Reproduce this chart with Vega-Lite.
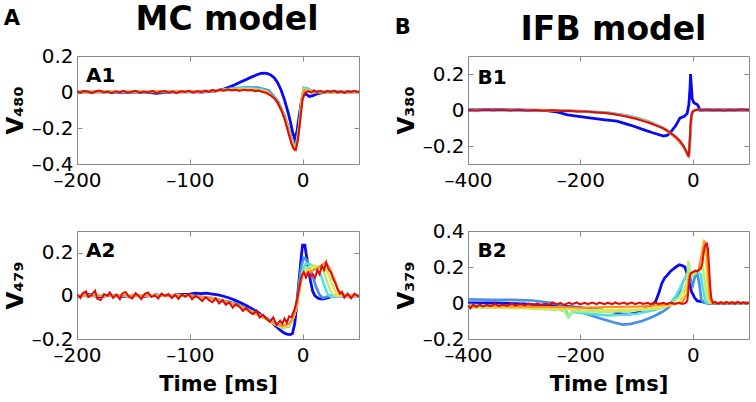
{
"$schema":"https://vega.github.io/schema/vega-lite/v6.json",
"background":"white",
"padding":{"left":3,"top":3,"right":0,"bottom":0},
"config":{
 "font":"DejaVu Sans",
 "view":{"stroke":"#8a8a8a","strokeWidth":1},
 "axis":{"domain":false,"grid":false,"labelFont":"DejaVu Sans","labelFontSize":20,"labelColor":"#000","labelFlush":false,"labelOverlap":false,"tickColor":"#8a8a8a","tickSize":-5,"labelPadding":9,"titleFont":"DejaVu Sans","titleFontWeight":"bold","titleColor":"#000","labelExpr":"replace(datum.label, '−', '–')"},
 "axisY":{"titleFontSize":23,"titlePadding":4},
 "axisX":{"titleFontSize":21,"titlePadding":8,"labelPadding":11},
 "title":{"font":"DejaVu Sans","fontWeight":"bold","color":"#000"},
 "concat":{"spacing":34}
},
"datasets":{
"a1":[
{"s":1,"t":-200,"v":0.0},{"s":1,"t":-180,"v":0.002},{"s":1,"t":-160,"v":-0.002},{"s":1,"t":-140,"v":0.001},{"s":1,"t":-130,"v":-0.008},{"s":1,"t":-120,"v":0.0},{"s":1,"t":-100,"v":0.002},{"s":1,"t":-90,"v":0.0},{"s":1,"t":-80,"v":0.004},{"s":1,"t":-75,"v":0.008},{"s":1,"t":-70,"v":0.016},{"s":1,"t":-65,"v":0.027},{"s":1,"t":-60,"v":0.04},{"s":1,"t":-55,"v":0.055},{"s":1,"t":-50,"v":0.07},{"s":1,"t":-45,"v":0.084},{"s":1,"t":-40,"v":0.097},{"s":1,"t":-37,"v":0.103},{"s":1,"t":-34,"v":0.105},{"s":1,"t":-31,"v":0.102},{"s":1,"t":-28,"v":0.094},{"s":1,"t":-25,"v":0.078},{"s":1,"t":-22,"v":0.05},{"s":1,"t":-19,"v":0.01},{"s":1,"t":-16,"v":-0.045},{"s":1,"t":-13,"v":-0.11},{"s":1,"t":-11,"v":-0.16},{"s":1,"t":-9,"v":-0.22},{"s":1,"t":-7,"v":-0.26},{"s":1,"t":-5,"v":-0.22},{"s":1,"t":-3,"v":-0.13},{"s":1,"t":-1,"v":-0.05},{"s":1,"t":1,"v":-0.015},{"s":1,"t":3,"v":-0.012},{"s":1,"t":6,"v":-0.025},{"s":1,"t":9,"v":-0.02},{"s":1,"t":12,"v":-0.012},{"s":1,"t":16,"v":-0.006},{"s":1,"t":20,"v":0.0},{"s":1,"t":30,"v":0.002},{"s":1,"t":40,"v":-0.001},{"s":1,"t":50,"v":0.0},
{"s":2,"t":-200,"v":0},{"s":2,"t":-100,"v":0.002},{"s":2,"t":-80,"v":0.006},{"s":2,"t":-65,"v":0.018},{"s":2,"t":-50,"v":0.026},{"s":2,"t":-40,"v":0.024},{"s":2,"t":-30,"v":0.008},{"s":2,"t":-22,"v":-0.05},{"s":2,"t":-16,"v":-0.13},{"s":2,"t":-12,"v":-0.21},{"s":2,"t":-9,"v":-0.28},{"s":2,"t":-7,"v":-0.3},{"s":2,"t":-5,"v":-0.27},{"s":2,"t":-3,"v":-0.18},{"s":2,"t":-1,"v":-0.05},{"s":2,"t":1,"v":0.02},{"s":2,"t":4,"v":0.02},{"s":2,"t":8,"v":0.006},{"s":2,"t":15,"v":0},{"s":2,"t":50,"v":0},
{"s":3,"t":-200,"v":0},{"s":3,"t":-100,"v":0},{"s":3,"t":-75,"v":0.008},{"s":3,"t":-60,"v":0.02},{"s":3,"t":-48,"v":0.022},{"s":3,"t":-35,"v":0.012},{"s":3,"t":-25,"v":-0.03},{"s":3,"t":-18,"v":-0.11},{"s":3,"t":-13,"v":-0.2},{"s":3,"t":-9,"v":-0.285},{"s":3,"t":-7,"v":-0.31},{"s":3,"t":-5,"v":-0.28},{"s":3,"t":-3,"v":-0.19},{"s":3,"t":-1,"v":-0.06},{"s":3,"t":1,"v":0.025},{"s":3,"t":4,"v":0.018},{"s":3,"t":9,"v":0.004},{"s":3,"t":15,"v":0},{"s":3,"t":50,"v":0},
{"s":4,"t":-200,"v":0},{"s":4,"t":-80,"v":0.005},{"s":4,"t":-60,"v":0.016},{"s":4,"t":-45,"v":0.016},{"s":4,"t":-32,"v":0.005},{"s":4,"t":-24,"v":-0.04},{"s":4,"t":-18,"v":-0.11},{"s":4,"t":-13,"v":-0.2},{"s":4,"t":-9,"v":-0.29},{"s":4,"t":-7,"v":-0.315},{"s":4,"t":-5,"v":-0.29},{"s":4,"t":-3,"v":-0.2},{"s":4,"t":-1,"v":-0.06},{"s":4,"t":1,"v":0.015},{"s":4,"t":5,"v":0.01},{"s":4,"t":10,"v":0},{"s":4,"t":50,"v":0},
{"s":5,"t":-200,"v":0},{"s":5,"t":-80,"v":0.005},{"s":5,"t":-60,"v":0.014},{"s":5,"t":-45,"v":0.014},{"s":5,"t":-32,"v":0.002},{"s":5,"t":-24,"v":-0.04},{"s":5,"t":-18,"v":-0.11},{"s":5,"t":-13,"v":-0.2},{"s":5,"t":-9,"v":-0.29},{"s":5,"t":-7,"v":-0.318},{"s":5,"t":-5,"v":-0.29},{"s":5,"t":-3,"v":-0.2},{"s":5,"t":-1,"v":-0.06},{"s":5,"t":1,"v":0.012},{"s":5,"t":5,"v":0.008},{"s":5,"t":10,"v":0},{"s":5,"t":50,"v":0},
{"s":6,"t":-200,"v":0},{"s":6,"t":-80,"v":0.005},{"s":6,"t":-60,"v":0.013},{"s":6,"t":-45,"v":0.012},{"s":6,"t":-32,"v":0.0},{"s":6,"t":-24,"v":-0.04},{"s":6,"t":-18,"v":-0.11},{"s":6,"t":-13,"v":-0.2},{"s":6,"t":-9,"v":-0.29},{"s":6,"t":-7,"v":-0.32},{"s":6,"t":-5,"v":-0.29},{"s":6,"t":-3,"v":-0.2},{"s":6,"t":-1,"v":-0.06},{"s":6,"t":1,"v":0.01},{"s":6,"t":5,"v":0.006},{"s":6,"t":10,"v":0},{"s":6,"t":50,"v":0},
{"s":7,"t":-200,"v":0.003},{"s":7,"t":-197,"v":-0.005},{"s":7,"t":-194,"v":0.006},{"s":7,"t":-190,"v":0.001},{"s":7,"t":-187,"v":-0.006},{"s":7,"t":-183,"v":0.004},{"s":7,"t":-180,"v":0.008},{"s":7,"t":-176,"v":-0.003},{"s":7,"t":-173,"v":0.002},{"s":7,"t":-169,"v":-0.007},{"s":7,"t":-166,"v":0.004},{"s":7,"t":-162,"v":-0.002},{"s":7,"t":-159,"v":0.006},{"s":7,"t":-155,"v":-0.004},{"s":7,"t":-151,"v":0.001},{"s":7,"t":-148,"v":0.007},{"s":7,"t":-144,"v":-0.005},{"s":7,"t":-141,"v":0.003},{"s":7,"t":-137,"v":-0.002},{"s":7,"t":-133,"v":0.006},{"s":7,"t":-130,"v":-0.006},{"s":7,"t":-126,"v":0.002},{"s":7,"t":-122,"v":0.005},{"s":7,"t":-119,"v":-0.004},{"s":7,"t":-115,"v":0.003},{"s":7,"t":-112,"v":-0.006},{"s":7,"t":-108,"v":0.004},{"s":7,"t":-104,"v":0.0},{"s":7,"t":-101,"v":0.006},{"s":7,"t":-97,"v":-0.004},{"s":7,"t":-93,"v":0.005},{"s":7,"t":-90,"v":0.0},{"s":7,"t":-86,"v":0.007},{"s":7,"t":-83,"v":0.001},{"s":7,"t":-80,"v":0.012},{"s":7,"t":-77,"v":0.004},{"s":7,"t":-73,"v":0.013},{"s":7,"t":-70,"v":0.007},{"s":7,"t":-66,"v":0.015},{"s":7,"t":-63,"v":0.008},{"s":7,"t":-59,"v":0.012},{"s":7,"t":-56,"v":0.006},{"s":7,"t":-52,"v":0.013},{"s":7,"t":-48,"v":0.008},{"s":7,"t":-45,"v":0.011},{"s":7,"t":-42,"v":0.004},{"s":7,"t":-39,"v":0.008},{"s":7,"t":-36,"v":0.001},{"s":7,"t":-32,"v":-0.006},{"s":7,"t":-28,"v":-0.02},{"s":7,"t":-25,"v":-0.035},{"s":7,"t":-22,"v":-0.06},{"s":7,"t":-19,"v":-0.1},{"s":7,"t":-16,"v":-0.15},{"s":7,"t":-13,"v":-0.22},{"s":7,"t":-10,"v":-0.285},{"s":7,"t":-8,"v":-0.315},{"s":7,"t":-6,"v":-0.322},{"s":7,"t":-4,"v":-0.26},{"s":7,"t":-2,"v":-0.15},{"s":7,"t":0,"v":-0.04},{"s":7,"t":2,"v":-0.005},{"s":7,"t":5,"v":0.004},{"s":7,"t":8,"v":-0.003},{"s":7,"t":10,"v":0.009},{"s":7,"t":13,"v":0.001},{"s":7,"t":16,"v":0.007},{"s":7,"t":19,"v":-0.004},{"s":7,"t":22,"v":0.006},{"s":7,"t":25,"v":0.0},{"s":7,"t":28,"v":0.008},{"s":7,"t":31,"v":-0.003},{"s":7,"t":34,"v":0.004},{"s":7,"t":37,"v":-0.005},{"s":7,"t":40,"v":0.005},{"s":7,"t":43,"v":0.0},{"s":7,"t":46,"v":0.007},{"s":7,"t":50,"v":-0.002}
],
"a2":[
{"s":1,"t":-200,"v":0.0},{"s":1,"t":-190,"v":0.006},{"s":1,"t":-180,"v":-0.005},{"s":1,"t":-170,"v":0.004},{"s":1,"t":-160,"v":-0.004},{"s":1,"t":-150,"v":0.003},{"s":1,"t":-140,"v":-0.003},{"s":1,"t":-130,"v":0.004},{"s":1,"t":-120,"v":0.0},{"s":1,"t":-110,"v":0.005},{"s":1,"t":-100,"v":0.008},{"s":1,"t":-95,"v":0.012},{"s":1,"t":-90,"v":0.01},{"s":1,"t":-85,"v":0.012},{"s":1,"t":-80,"v":0.008},{"s":1,"t":-75,"v":0.004},{"s":1,"t":-70,"v":-0.002},{"s":1,"t":-65,"v":-0.01},{"s":1,"t":-60,"v":-0.02},{"s":1,"t":-55,"v":-0.032},{"s":1,"t":-50,"v":-0.045},{"s":1,"t":-45,"v":-0.06},{"s":1,"t":-40,"v":-0.075},{"s":1,"t":-35,"v":-0.095},{"s":1,"t":-30,"v":-0.11},{"s":1,"t":-25,"v":-0.135},{"s":1,"t":-20,"v":-0.158},{"s":1,"t":-17,"v":-0.17},{"s":1,"t":-14,"v":-0.178},{"s":1,"t":-11,"v":-0.18},{"s":1,"t":-9,"v":-0.175},{"s":1,"t":-7,"v":-0.13},{"s":1,"t":-5,"v":-0.03},{"s":1,"t":-3,"v":0.08},{"s":1,"t":-1,"v":0.19},{"s":1,"t":0,"v":0.235},{"s":1,"t":2,"v":0.235},{"s":1,"t":3,"v":0.2},{"s":1,"t":5,"v":0.13},{"s":1,"t":7,"v":0.07},{"s":1,"t":9,"v":0.02},{"s":1,"t":11,"v":0.0},{"s":1,"t":14,"v":-0.012},{"s":1,"t":18,"v":-0.015},{"s":1,"t":22,"v":-0.01},{"s":1,"t":26,"v":-0.003},{"s":1,"t":30,"v":0.0},{"s":1,"t":40,"v":0.0},{"s":1,"t":50,"v":0.0},
{"s":2,"t":-200,"v":0},{"s":2,"t":-100,"v":0.002},{"s":2,"t":-80,"v":-0.01},{"s":2,"t":-60,"v":-0.035},{"s":2,"t":-45,"v":-0.07},{"s":2,"t":-35,"v":-0.095},{"s":2,"t":-25,"v":-0.125},{"s":2,"t":-18,"v":-0.145},{"s":2,"t":-12,"v":-0.14},{"s":2,"t":-8,"v":-0.1},{"s":2,"t":-5,"v":-0.03},{"s":2,"t":-3,"v":0.06},{"s":2,"t":-1,"v":0.14},{"s":2,"t":1,"v":0.175},{"s":2,"t":3,"v":0.17},{"s":2,"t":6,"v":0.14},{"s":2,"t":9,"v":0.09},{"s":2,"t":12,"v":0.04},{"s":2,"t":15,"v":0.005},{"s":2,"t":18,"v":-0.01},{"s":2,"t":24,"v":0},{"s":2,"t":50,"v":0},
{"s":3,"t":-200,"v":0},{"s":3,"t":-100,"v":0},{"s":3,"t":-80,"v":-0.012},{"s":3,"t":-60,"v":-0.04},{"s":3,"t":-45,"v":-0.075},{"s":3,"t":-35,"v":-0.1},{"s":3,"t":-25,"v":-0.13},{"s":3,"t":-18,"v":-0.15},{"s":3,"t":-12,"v":-0.14},{"s":3,"t":-8,"v":-0.1},{"s":3,"t":-5,"v":-0.04},{"s":3,"t":-2,"v":0.06},{"s":3,"t":0,"v":0.12},{"s":3,"t":3,"v":0.15},{"s":3,"t":7,"v":0.145},{"s":3,"t":12,"v":0.13},{"s":3,"t":16,"v":0.1},{"s":3,"t":19,"v":0.05},{"s":3,"t":22,"v":0.01},{"s":3,"t":25,"v":-0.005},{"s":3,"t":30,"v":0},{"s":3,"t":50,"v":0},
{"s":4,"t":-200,"v":0},{"s":4,"t":-100,"v":0},{"s":4,"t":-80,"v":-0.012},{"s":4,"t":-60,"v":-0.04},{"s":4,"t":-45,"v":-0.075},{"s":4,"t":-35,"v":-0.1},{"s":4,"t":-25,"v":-0.13},{"s":4,"t":-18,"v":-0.148},{"s":4,"t":-12,"v":-0.138},{"s":4,"t":-8,"v":-0.1},{"s":4,"t":-5,"v":-0.04},{"s":4,"t":-2,"v":0.05},{"s":4,"t":0,"v":0.11},{"s":4,"t":4,"v":0.13},{"s":4,"t":9,"v":0.14},{"s":4,"t":15,"v":0.135},{"s":4,"t":19,"v":0.11},{"s":4,"t":22,"v":0.06},{"s":4,"t":25,"v":0.02},{"s":4,"t":28,"v":0.0},{"s":4,"t":50,"v":0},
{"s":5,"t":-200,"v":0},{"s":5,"t":-100,"v":0},{"s":5,"t":-80,"v":-0.012},{"s":5,"t":-60,"v":-0.04},{"s":5,"t":-45,"v":-0.075},{"s":5,"t":-35,"v":-0.1},{"s":5,"t":-25,"v":-0.13},{"s":5,"t":-18,"v":-0.145},{"s":5,"t":-12,"v":-0.135},{"s":5,"t":-8,"v":-0.1},{"s":5,"t":-5,"v":-0.04},{"s":5,"t":-2,"v":0.05},{"s":5,"t":0,"v":0.1},{"s":5,"t":5,"v":0.12},{"s":5,"t":12,"v":0.13},{"s":5,"t":18,"v":0.14},{"s":5,"t":22,"v":0.11},{"s":5,"t":25,"v":0.07},{"s":5,"t":28,"v":0.03},{"s":5,"t":31,"v":0.005},{"s":5,"t":35,"v":0},{"s":5,"t":50,"v":0},
{"s":6,"t":-200,"v":0},{"s":6,"t":-100,"v":0},{"s":6,"t":-80,"v":-0.012},{"s":6,"t":-60,"v":-0.04},{"s":6,"t":-45,"v":-0.075},{"s":6,"t":-35,"v":-0.1},{"s":6,"t":-25,"v":-0.128},{"s":6,"t":-18,"v":-0.14},{"s":6,"t":-12,"v":-0.13},{"s":6,"t":-8,"v":-0.1},{"s":6,"t":-5,"v":-0.04},{"s":6,"t":-2,"v":0.05},{"s":6,"t":0,"v":0.1},{"s":6,"t":6,"v":0.11},{"s":6,"t":14,"v":0.13},{"s":6,"t":20,"v":0.155},{"s":6,"t":24,"v":0.13},{"s":6,"t":28,"v":0.08},{"s":6,"t":31,"v":0.035},{"s":6,"t":34,"v":0.01},{"s":6,"t":38,"v":0},{"s":6,"t":50,"v":0},
{"s":7,"t":-200,"v":0.005},{"s":7,"t":-197,"v":-0.01},{"s":7,"t":-195,"v":0.012},{"s":7,"t":-192,"v":0.02},{"s":7,"t":-190,"v":-0.006},{"s":7,"t":-187,"v":0.004},{"s":7,"t":-184,"v":0.024},{"s":7,"t":-182,"v":-0.014},{"s":7,"t":-179,"v":-0.02},{"s":7,"t":-176,"v":0.008},{"s":7,"t":-173,"v":0.0},{"s":7,"t":-171,"v":0.016},{"s":7,"t":-168,"v":-0.01},{"s":7,"t":-165,"v":0.006},{"s":7,"t":-162,"v":-0.016},{"s":7,"t":-160,"v":0.01},{"s":7,"t":-157,"v":0.018},{"s":7,"t":-154,"v":-0.004},{"s":7,"t":-151,"v":-0.012},{"s":7,"t":-148,"v":0.012},{"s":7,"t":-146,"v":0.003},{"s":7,"t":-143,"v":-0.015},{"s":7,"t":-140,"v":0.009},{"s":7,"t":-137,"v":0.015},{"s":7,"t":-134,"v":-0.006},{"s":7,"t":-131,"v":0.002},{"s":7,"t":-128,"v":-0.012},{"s":7,"t":-125,"v":0.01},{"s":7,"t":-122,"v":0.0},{"s":7,"t":-119,"v":0.008},{"s":7,"t":-116,"v":-0.01},{"s":7,"t":-113,"v":0.004},{"s":7,"t":-110,"v":-0.014},{"s":7,"t":-107,"v":0.006},{"s":7,"t":-104,"v":-0.004},{"s":7,"t":-101,"v":0.008},{"s":7,"t":-98,"v":-0.016},{"s":7,"t":-95,"v":0.0},{"s":7,"t":-92,"v":-0.01},{"s":7,"t":-89,"v":-0.024},{"s":7,"t":-86,"v":-0.006},{"s":7,"t":-83,"v":-0.02},{"s":7,"t":-80,"v":-0.03},{"s":7,"t":-77,"v":-0.012},{"s":7,"t":-74,"v":-0.035},{"s":7,"t":-71,"v":-0.02},{"s":7,"t":-68,"v":-0.042},{"s":7,"t":-65,"v":-0.03},{"s":7,"t":-62,"v":-0.055},{"s":7,"t":-59,"v":-0.038},{"s":7,"t":-56,"v":-0.05},{"s":7,"t":-53,"v":-0.07},{"s":7,"t":-50,"v":-0.055},{"s":7,"t":-47,"v":-0.075},{"s":7,"t":-44,"v":-0.085},{"s":7,"t":-41,"v":-0.068},{"s":7,"t":-38,"v":-0.1},{"s":7,"t":-35,"v":-0.088},{"s":7,"t":-32,"v":-0.107},{"s":7,"t":-29,"v":-0.12},{"s":7,"t":-26,"v":-0.1},{"s":7,"t":-23,"v":-0.135},{"s":7,"t":-20,"v":-0.115},{"s":7,"t":-18,"v":-0.13},{"s":7,"t":-16,"v":-0.105},{"s":7,"t":-14,"v":-0.125},{"s":7,"t":-12,"v":-0.095},{"s":7,"t":-10,"v":-0.1},{"s":7,"t":-7,"v":-0.06},{"s":7,"t":-5,"v":-0.02},{"s":7,"t":-3,"v":0.04},{"s":7,"t":-1,"v":0.09},{"s":7,"t":1,"v":0.11},{"s":7,"t":3,"v":0.085},{"s":7,"t":5,"v":0.108},{"s":7,"t":7,"v":0.088},{"s":7,"t":9,"v":0.1},{"s":7,"t":11,"v":0.083},{"s":7,"t":13,"v":0.118},{"s":7,"t":15,"v":0.1},{"s":7,"t":17,"v":0.138},{"s":7,"t":19,"v":0.12},{"s":7,"t":21,"v":0.155},{"s":7,"t":23,"v":0.122},{"s":7,"t":25,"v":0.11},{"s":7,"t":27,"v":0.08},{"s":7,"t":29,"v":0.06},{"s":7,"t":31,"v":0.03},{"s":7,"t":33,"v":0.01},{"s":7,"t":35,"v":0.018},{"s":7,"t":37,"v":-0.008},{"s":7,"t":40,"v":0.01},{"s":7,"t":43,"v":-0.012},{"s":7,"t":46,"v":0.01},{"s":7,"t":50,"v":-0.004}
],
"b1":[
{"s":1,"t":-400,"v":0.0},{"s":1,"t":-350,"v":0.002},{"s":1,"t":-300,"v":-0.001},{"s":1,"t":-260,"v":-0.003},{"s":1,"t":-240,"v":-0.012},{"s":1,"t":-223,"v":-0.027},{"s":1,"t":-200,"v":-0.037},{"s":1,"t":-180,"v":-0.045},{"s":1,"t":-160,"v":-0.053},{"s":1,"t":-135,"v":-0.062},{"s":1,"t":-110,"v":-0.085},{"s":1,"t":-88,"v":-0.109},{"s":1,"t":-70,"v":-0.128},{"s":1,"t":-52,"v":-0.145},{"s":1,"t":-45,"v":-0.14},{"s":1,"t":-40,"v":-0.125},{"s":1,"t":-30,"v":-0.085},{"s":1,"t":-23,"v":-0.045},{"s":1,"t":-15,"v":-0.035},{"s":1,"t":-10,"v":-0.02},{"s":1,"t":-7,"v":0.03},{"s":1,"t":-5,"v":0.12},{"s":1,"t":-4,"v":0.2},{"s":1,"t":-3,"v":0.15},{"s":1,"t":-1,"v":0.06},{"s":1,"t":2,"v":0.04},{"s":1,"t":5,"v":0.035},{"s":1,"t":8,"v":0.03},{"s":1,"t":10,"v":0.02},{"s":1,"t":13,"v":0.0},{"s":1,"t":20,"v":0.0},{"s":1,"t":100,"v":0.0},
{"s":2,"t":-400,"v":0},{"s":2,"t":-300,"v":0},{"s":2,"t":-250,"v":-0.002},{"s":2,"t":-200,"v":-0.006},{"s":2,"t":-150,"v":-0.016},{"s":2,"t":-120,"v":-0.03},{"s":2,"t":-100,"v":-0.043},{"s":2,"t":-80,"v":-0.062},{"s":2,"t":-60,"v":-0.088},{"s":2,"t":-45,"v":-0.115},{"s":2,"t":-35,"v":-0.14},{"s":2,"t":-25,"v":-0.17},{"s":2,"t":-17,"v":-0.2},{"s":2,"t":-12,"v":-0.23},{"s":2,"t":-9,"v":-0.25},{"s":2,"t":-7,"v":-0.255},{"s":2,"t":-5,"v":-0.18},{"s":2,"t":-3,"v":-0.06},{"s":2,"t":-1,"v":-0.01},{"s":2,"t":3,"v":0},{"s":2,"t":100,"v":0},
{"s":3,"t":-400,"v":0},{"s":3,"t":-300,"v":0},{"s":3,"t":-250,"v":-0.002},{"s":3,"t":-200,"v":-0.007},{"s":3,"t":-150,"v":-0.017},{"s":3,"t":-120,"v":-0.031},{"s":3,"t":-100,"v":-0.045},{"s":3,"t":-80,"v":-0.064},{"s":3,"t":-60,"v":-0.09},{"s":3,"t":-45,"v":-0.117},{"s":3,"t":-35,"v":-0.141},{"s":3,"t":-25,"v":-0.171},{"s":3,"t":-17,"v":-0.202},{"s":3,"t":-12,"v":-0.232},{"s":3,"t":-9,"v":-0.252},{"s":3,"t":-7,"v":-0.256},{"s":3,"t":-5,"v":-0.17},{"s":3,"t":-3,"v":-0.05},{"s":3,"t":-1,"v":-0.01},{"s":3,"t":3,"v":0},{"s":3,"t":100,"v":0},
{"s":6,"t":-400,"v":0},{"s":6,"t":-300,"v":0},{"s":6,"t":-250,"v":-0.002},{"s":6,"t":-200,"v":-0.007},{"s":6,"t":-150,"v":-0.018},{"s":6,"t":-120,"v":-0.032},{"s":6,"t":-100,"v":-0.047},{"s":6,"t":-80,"v":-0.066},{"s":6,"t":-60,"v":-0.092},{"s":6,"t":-45,"v":-0.118},{"s":6,"t":-35,"v":-0.142},{"s":6,"t":-25,"v":-0.172},{"s":6,"t":-17,"v":-0.203},{"s":6,"t":-12,"v":-0.233},{"s":6,"t":-9,"v":-0.253},{"s":6,"t":-7,"v":-0.258},{"s":6,"t":-5,"v":-0.16},{"s":6,"t":-3,"v":-0.05},{"s":6,"t":-1,"v":-0.01},{"s":6,"t":3,"v":0},{"s":6,"t":100,"v":0},
{"s":7,"t":-400,"v":0.0},{"s":7,"t":-385,"v":-0.003},{"s":7,"t":-370,"v":0.002},{"s":7,"t":-355,"v":-0.002},{"s":7,"t":-340,"v":0.002},{"s":7,"t":-325,"v":-0.003},{"s":7,"t":-310,"v":0.001},{"s":7,"t":-295,"v":-0.003},{"s":7,"t":-280,"v":0.0},{"s":7,"t":-265,"v":-0.004},{"s":7,"t":-250,"v":-0.002},{"s":7,"t":-235,"v":-0.005},{"s":7,"t":-220,"v":-0.004},{"s":7,"t":-205,"v":-0.008},{"s":7,"t":-190,"v":-0.009},{"s":7,"t":-175,"v":-0.012},{"s":7,"t":-160,"v":-0.015},{"s":7,"t":-145,"v":-0.021},{"s":7,"t":-130,"v":-0.029},{"s":7,"t":-115,"v":-0.039},{"s":7,"t":-100,"v":-0.05},{"s":7,"t":-88,"v":-0.062},{"s":7,"t":-76,"v":-0.074},{"s":7,"t":-64,"v":-0.088},{"s":7,"t":-52,"v":-0.102},{"s":7,"t":-44,"v":-0.118},{"s":7,"t":-36,"v":-0.135},{"s":7,"t":-28,"v":-0.155},{"s":7,"t":-22,"v":-0.175},{"s":7,"t":-17,"v":-0.198},{"s":7,"t":-13,"v":-0.22},{"s":7,"t":-10,"v":-0.24},{"s":7,"t":-8,"v":-0.254},{"s":7,"t":-7,"v":-0.25},{"s":7,"t":-6,"v":-0.2},{"s":7,"t":-5,"v":-0.14},{"s":7,"t":-4,"v":-0.08},{"s":7,"t":-3,"v":-0.04},{"s":7,"t":-1,"v":-0.015},{"s":7,"t":1,"v":-0.006},{"s":7,"t":4,"v":-0.002},{"s":7,"t":8,"v":0.002},{"s":7,"t":15,"v":-0.002},{"s":7,"t":25,"v":0.003},{"s":7,"t":35,"v":-0.002},{"s":7,"t":45,"v":0.002},{"s":7,"t":55,"v":-0.003},{"s":7,"t":65,"v":0.002},{"s":7,"t":75,"v":-0.002},{"s":7,"t":85,"v":0.003},{"s":7,"t":100,"v":0.0}
],
"b2":[
{"s":1,"t":-400,"v":0.0},{"s":1,"t":-350,"v":0.0},{"s":1,"t":-300,"v":-0.005},{"s":1,"t":-280,"v":-0.01},{"s":1,"t":-250,"v":-0.015},{"s":1,"t":-220,"v":-0.02},{"s":1,"t":-200,"v":-0.026},{"s":1,"t":-180,"v":-0.035},{"s":1,"t":-160,"v":-0.04},{"s":1,"t":-140,"v":-0.05},{"s":1,"t":-127,"v":-0.062},{"s":1,"t":-110,"v":-0.06},{"s":1,"t":-100,"v":-0.055},{"s":1,"t":-85,"v":-0.03},{"s":1,"t":-72,"v":-0.01},{"s":1,"t":-66,"v":0.01},{"s":1,"t":-60,"v":0.06},{"s":1,"t":-55,"v":0.11},{"s":1,"t":-50,"v":0.14},{"s":1,"t":-46,"v":0.152},{"s":1,"t":-40,"v":0.175},{"s":1,"t":-30,"v":0.2},{"s":1,"t":-24,"v":0.212},{"s":1,"t":-18,"v":0.207},{"s":1,"t":-14,"v":0.2},{"s":1,"t":-10,"v":0.16},{"s":1,"t":-7,"v":0.12},{"s":1,"t":-5,"v":0.1},{"s":1,"t":-2,"v":0.06},{"s":1,"t":0,"v":0.05},{"s":1,"t":3,"v":0.03},{"s":1,"t":8,"v":0.012},{"s":1,"t":15,"v":0.008},{"s":1,"t":22,"v":0.004},{"s":1,"t":30,"v":-0.003},{"s":1,"t":100,"v":0.0},
{"s":2,"t":-400,"v":0.02},{"s":2,"t":-360,"v":0.018},{"s":2,"t":-320,"v":0.017},{"s":2,"t":-285,"v":0.014},{"s":2,"t":-250,"v":0.0},{"s":2,"t":-220,"v":-0.03},{"s":2,"t":-200,"v":-0.05},{"s":2,"t":-170,"v":-0.08},{"s":2,"t":-140,"v":-0.108},{"s":2,"t":-125,"v":-0.12},{"s":2,"t":-110,"v":-0.116},{"s":2,"t":-90,"v":-0.1},{"s":2,"t":-70,"v":-0.075},{"s":2,"t":-55,"v":-0.05},{"s":2,"t":-45,"v":-0.03},{"s":2,"t":-35,"v":0.0},{"s":2,"t":-25,"v":0.05},{"s":2,"t":-17,"v":0.12},{"s":2,"t":-10,"v":0.155},{"s":2,"t":-6,"v":0.16},{"s":2,"t":-3,"v":0.12},{"s":2,"t":0,"v":0.1},{"s":2,"t":4,"v":0.15},{"s":2,"t":8,"v":0.16},{"s":2,"t":12,"v":0.1},{"s":2,"t":15,"v":0.02},{"s":2,"t":20,"v":0.0},{"s":2,"t":100,"v":0.0},
{"s":3,"t":-400,"v":-0.01},{"s":3,"t":-300,"v":-0.02},{"s":3,"t":-250,"v":-0.03},{"s":3,"t":-225,"v":-0.045},{"s":3,"t":-220,"v":-0.075},{"s":3,"t":-215,"v":-0.05},{"s":3,"t":-200,"v":-0.055},{"s":3,"t":-150,"v":-0.07},{"s":3,"t":-100,"v":-0.06},{"s":3,"t":-70,"v":-0.04},{"s":3,"t":-50,"v":-0.02},{"s":3,"t":-40,"v":0.0},{"s":3,"t":-30,"v":0.04},{"s":3,"t":-20,"v":0.1},{"s":3,"t":-12,"v":0.15},{"s":3,"t":-8,"v":0.17},{"s":3,"t":0,"v":0.15},{"s":3,"t":8,"v":0.17},{"s":3,"t":14,"v":0.16},{"s":3,"t":18,"v":0.08},{"s":3,"t":22,"v":0.01},{"s":3,"t":26,"v":0.0},{"s":3,"t":100,"v":0.0},
{"s":4,"t":-400,"v":-0.025},{"s":4,"t":-300,"v":-0.03},{"s":4,"t":-230,"v":-0.04},{"s":4,"t":-222,"v":-0.08},{"s":4,"t":-215,"v":-0.045},{"s":4,"t":-150,"v":-0.05},{"s":4,"t":-100,"v":-0.04},{"s":4,"t":-60,"v":-0.03},{"s":4,"t":-40,"v":-0.01},{"s":4,"t":-25,"v":0.03},{"s":4,"t":-15,"v":0.08},{"s":4,"t":-10,"v":0.12},{"s":4,"t":-8,"v":0.235},{"s":4,"t":-6,"v":0.2},{"s":4,"t":-3,"v":0.15},{"s":4,"t":5,"v":0.17},{"s":4,"t":12,"v":0.18},{"s":4,"t":18,"v":0.2},{"s":4,"t":22,"v":0.1},{"s":4,"t":26,"v":0.02},{"s":4,"t":30,"v":0.0},{"s":4,"t":100,"v":0.0},
{"s":5,"t":-400,"v":-0.02},{"s":5,"t":-300,"v":-0.025},{"s":5,"t":-200,"v":-0.035},{"s":5,"t":-150,"v":-0.04},{"s":5,"t":-100,"v":-0.035},{"s":5,"t":-50,"v":-0.02},{"s":5,"t":-25,"v":0.0},{"s":5,"t":-15,"v":0.05},{"s":5,"t":-10,"v":0.12},{"s":5,"t":-8,"v":0.16},{"s":5,"t":0,"v":0.17},{"s":5,"t":10,"v":0.18},{"s":5,"t":16,"v":0.27},{"s":5,"t":19,"v":0.34},{"s":5,"t":22,"v":0.32},{"s":5,"t":25,"v":0.15},{"s":5,"t":28,"v":0.02},{"s":5,"t":32,"v":0.0},{"s":5,"t":100,"v":0.0},
{"s":6,"t":-400,"v":-0.015},{"s":6,"t":-300,"v":-0.02},{"s":6,"t":-200,"v":-0.025},{"s":6,"t":-100,"v":-0.02},{"s":6,"t":-50,"v":-0.01},{"s":6,"t":-20,"v":0.0},{"s":6,"t":-10,"v":0.05},{"s":6,"t":-7,"v":0.15},{"s":6,"t":0,"v":0.17},{"s":6,"t":10,"v":0.18},{"s":6,"t":18,"v":0.3},{"s":6,"t":21,"v":0.34},{"s":6,"t":24,"v":0.33},{"s":6,"t":28,"v":0.12},{"s":6,"t":31,"v":0.02},{"s":6,"t":34,"v":0.0},{"s":6,"t":100,"v":0.0},
{"s":7,"t":-400,"v":-0.015},{"s":7,"t":-396,"v":-0.03},{"s":7,"t":-391,"v":-0.01},{"s":7,"t":-385,"v":-0.022},{"s":7,"t":-379,"v":-0.008},{"s":7,"t":-374,"v":-0.02},{"s":7,"t":-366,"v":-0.01},{"s":7,"t":-360,"v":-0.018},{"s":7,"t":-352,"v":-0.005},{"s":7,"t":-345,"v":-0.017},{"s":7,"t":-339,"v":-0.009},{"s":7,"t":-330,"v":-0.015},{"s":7,"t":-322,"v":-0.003},{"s":7,"t":-316,"v":-0.014},{"s":7,"t":-306,"v":-0.006},{"s":7,"t":-299,"v":-0.013},{"s":7,"t":-292,"v":-0.003},{"s":7,"t":-283,"v":-0.012},{"s":7,"t":-277,"v":-0.002},{"s":7,"t":-271,"v":-0.011},{"s":7,"t":-262,"v":-0.004},{"s":7,"t":-255,"v":-0.01},{"s":7,"t":-250,"v":0.003},{"s":7,"t":-241,"v":-0.008},{"s":7,"t":-236,"v":0.001},{"s":7,"t":-229,"v":-0.01},{"s":7,"t":-220,"v":0.002},{"s":7,"t":-215,"v":-0.007},{"s":7,"t":-206,"v":0.003},{"s":7,"t":-201,"v":-0.008},{"s":7,"t":-192,"v":0.001},{"s":7,"t":-187,"v":-0.007},{"s":7,"t":-179,"v":0.003},{"s":7,"t":-171,"v":-0.006},{"s":7,"t":-166,"v":0.002},{"s":7,"t":-157,"v":-0.007},{"s":7,"t":-152,"v":0.001},{"s":7,"t":-143,"v":-0.006},{"s":7,"t":-138,"v":0.003},{"s":7,"t":-131,"v":-0.005},{"s":7,"t":-122,"v":0.002},{"s":7,"t":-117,"v":-0.006},{"s":7,"t":-108,"v":0.002},{"s":7,"t":-103,"v":-0.006},{"s":7,"t":-94,"v":0.003},{"s":7,"t":-89,"v":-0.005},{"s":7,"t":-80,"v":0.001},{"s":7,"t":-75,"v":-0.006},{"s":7,"t":-66,"v":0.002},{"s":7,"t":-61,"v":-0.005},{"s":7,"t":-52,"v":0.001},{"s":7,"t":-47,"v":-0.006},{"s":7,"t":-38,"v":0.002},{"s":7,"t":-33,"v":-0.005},{"s":7,"t":-24,"v":0.001},{"s":7,"t":-19,"v":-0.005},{"s":7,"t":-13,"v":0.0},{"s":7,"t":-10,"v":0.01},{"s":7,"t":-8,"v":0.06},{"s":7,"t":-6,"v":0.13},{"s":7,"t":-4,"v":0.165},{"s":7,"t":-1,"v":0.17},{"s":7,"t":2,"v":0.175},{"s":7,"t":5,"v":0.18},{"s":7,"t":8,"v":0.175},{"s":7,"t":11,"v":0.185},{"s":7,"t":14,"v":0.19},{"s":7,"t":17,"v":0.22},{"s":7,"t":19,"v":0.27},{"s":7,"t":21,"v":0.31},{"s":7,"t":23,"v":0.325},{"s":7,"t":25,"v":0.33},{"s":7,"t":27,"v":0.3},{"s":7,"t":29,"v":0.2},{"s":7,"t":31,"v":0.09},{"s":7,"t":33,"v":0.025},{"s":7,"t":36,"v":0.0},{"s":7,"t":40,"v":0.006},{"s":7,"t":45,"v":-0.004},{"s":7,"t":50,"v":0.005},{"s":7,"t":55,"v":-0.005},{"s":7,"t":60,"v":0.006},{"s":7,"t":65,"v":-0.003},{"s":7,"t":70,"v":0.005},{"s":7,"t":75,"v":-0.004},{"s":7,"t":80,"v":0.006},{"s":7,"t":85,"v":-0.003},{"s":7,"t":90,"v":0.004},{"s":7,"t":95,"v":-0.004},{"s":7,"t":100,"v":0.002}
]
},
"hconcat":[
{
 "title":{"text":"A","anchor":"start","frame":"bounds","fontSize":21,"offset":0,"dy":25},
 "spacing":67,
 "bounds":"flush",
 "vconcat":[
 {
  "width":282,"height":108,
  "title":{"text":"MC model","fontSize":33,"anchor":"middle","dx":9,"offset":9},
  "resolve":{"axis":{"x":"independent","y":"independent"}},
  "layer":[
   {"data":{"name":"a1"},"mark":{"type":"line","clip":true},
    "encoding":{
     "x":{"field":"t","type":"quantitative","scale":{"domain":[-200,50],"nice":false,"zero":false},"axis":{"values":[-200,-100,0],"format":"d","title":null}},
     "y":{"field":"v","type":"quantitative","scale":{"domain":[-0.4,0.2],"nice":false,"zero":false},"axis":{"values":[-0.4,-0.2,0,0.2],"format":"~g","title":"V₄₈₀"}},
     "color":{"field":"s","type":"nominal","scale":{"domain":[1,2,3,4,5,6,7],"range":["#0a0af0","#4a8fe6","#50e0e0","#b0f080","#f0e040","#ff9020","#e00c0c"]},"legend":null},
     "strokeWidth":{"field":"s","type":"nominal","scale":{"domain":[1,2,3,4,5,6,7],"range":[2.8,2,2,2,2,2,3.8]},"legend":null}
    }},
   {"data":{"values":[{}]},"mark":{"type":"text","align":"left","baseline":"alphabetic","fontSize":20,"fontWeight":"bold","font":"DejaVu Sans","color":"#000"},
    "encoding":{
     "x":{"datum":-192,"type":"quantitative","axis":{"orient":"top","labels":false,"title":null,"values":[-200,-100,0]}},
     "y":{"datum":0.057,"type":"quantitative","axis":{"orient":"right","labels":false,"title":null,"values":[-0.4,-0.2,0,0.2]}},
     "text":{"value":"A1"}}}
  ]
 },
 {
  "width":282,"height":108,
  "resolve":{"axis":{"x":"independent","y":"independent"}},
  "layer":[
   {"data":{"name":"a2"},"mark":{"type":"line","clip":true},
    "encoding":{
     "x":{"field":"t","type":"quantitative","scale":{"domain":[-200,50],"nice":false,"zero":false},"axis":{"values":[-200,-100,0],"format":"d","title":"Time [ms]"}},
     "y":{"field":"v","type":"quantitative","scale":{"domain":[-0.2,0.3],"nice":false,"zero":false},"axis":{"values":[-0.2,0,0.2],"format":"~g","title":"V₄₇₉"}},
     "color":{"field":"s","type":"nominal","scale":{"domain":[1,2,3,4,5,6,7],"range":["#0a0af0","#4a8fe6","#50e0e0","#b0f080","#f0e040","#ff9020","#e00c0c"]},"legend":null},
     "strokeWidth":{"field":"s","type":"nominal","scale":{"domain":[1,2,3,4,5,6,7],"range":[2.8,2,2,2,2,2,3.8]},"legend":null}
    }},
   {"data":{"values":[{}]},"mark":{"type":"text","align":"left","baseline":"alphabetic","fontSize":20,"fontWeight":"bold","font":"DejaVu Sans","color":"#000"},
    "encoding":{
     "x":{"datum":-192,"type":"quantitative","axis":{"orient":"top","labels":false,"title":null,"values":[-200,-100,0]}},
     "y":{"datum":0.179,"type":"quantitative","axis":{"orient":"right","labels":false,"title":null,"values":[-0.2,0,0.2]}},
     "text":{"value":"A2"}}}
  ]
 }
 ]
},
{
 "title":{"text":"B","anchor":"start","frame":"bounds","fontSize":21,"offset":0,"dy":25},
 "spacing":67,
 "bounds":"flush",
 "vconcat":[
 {
  "width":281,"height":108,
  "title":{"text":"IFB model","fontSize":33,"anchor":"middle","dx":5,"offset":9},
  "resolve":{"axis":{"x":"independent","y":"independent"}},
  "layer":[
   {"data":{"name":"b1"},"mark":{"type":"line","clip":true},
    "encoding":{
     "x":{"field":"t","type":"quantitative","scale":{"domain":[-400,100],"nice":false,"zero":false},"axis":{"values":[-400,-200,0],"format":"d","title":null}},
     "y":{"field":"v","type":"quantitative","scale":{"domain":[-0.3,0.3],"nice":false,"zero":false},"axis":{"values":[-0.2,0,0.2],"format":"~g","title":"V₃₈₀"}},
     "color":{"field":"s","type":"nominal","scale":{"domain":[1,2,3,4,5,6,7],"range":["#0a0af0","#4a8fe6","#50e0e0","#b0f080","#f0e040","#ff9020","#e00c0c"]},"legend":null},
     "strokeWidth":{"field":"s","type":"nominal","scale":{"domain":[1,2,3,4,5,6,7],"range":[2.8,2,2,2,2,2,3.8]},"legend":null}
    }},
   {"data":{"values":[{}]},"mark":{"type":"text","align":"left","baseline":"alphabetic","fontSize":20,"fontWeight":"bold","font":"DejaVu Sans","color":"#000"},
    "encoding":{
     "x":{"datum":-383,"type":"quantitative","axis":{"orient":"top","labels":false,"title":null,"values":[-400,-200,0]}},
     "y":{"datum":0.146,"type":"quantitative","axis":{"orient":"right","labels":false,"title":null,"values":[-0.2,0,0.2]}},
     "text":{"value":"B1"}}}
  ]
 },
 {
  "width":281,"height":108,
  "resolve":{"axis":{"x":"independent","y":"independent"}},
  "layer":[
   {"data":{"name":"b2"},"mark":{"type":"line","clip":true},
    "encoding":{
     "x":{"field":"t","type":"quantitative","scale":{"domain":[-400,100],"nice":false,"zero":false},"axis":{"values":[-400,-200,0],"format":"d","title":"Time [ms]"}},
     "y":{"field":"v","type":"quantitative","scale":{"domain":[-0.2,0.4],"nice":false,"zero":false},"axis":{"values":[-0.2,0,0.2,0.4],"format":"~g","title":"V₃₇₉"}},
     "color":{"field":"s","type":"nominal","scale":{"domain":[1,2,3,4,5,6,7],"range":["#0a0af0","#4a8fe6","#50e0e0","#b0f080","#f0e040","#ff9020","#e00c0c"]},"legend":null},
     "strokeWidth":{"field":"s","type":"nominal","scale":{"domain":[1,2,3,4,5,6,7],"range":[2.8,2,2,2,2,2,3.8]},"legend":null}
    }},
   {"data":{"values":[{}]},"mark":{"type":"text","align":"left","baseline":"alphabetic","fontSize":20,"fontWeight":"bold","font":"DejaVu Sans","color":"#000"},
    "encoding":{
     "x":{"datum":-383,"type":"quantitative","axis":{"orient":"top","labels":false,"title":null,"values":[-400,-200,0]}},
     "y":{"datum":0.257,"type":"quantitative","axis":{"orient":"right","labels":false,"title":null,"values":[-0.2,0,0.2,0.4]}},
     "text":{"value":"B2"}}}
  ]
 }
 ]
}
]
}
